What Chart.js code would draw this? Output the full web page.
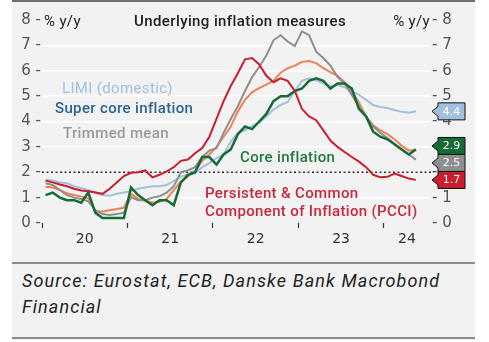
<!DOCTYPE html>
<html>
<head>
<meta charset="utf-8">
<script src="https://cdn.jsdelivr.net/npm/chart.js@4.4.1/dist/chart.umd.min.js"></script>
<style>
    html, body { margin: 0; padding: 0; background: #fff; }
    body { width: 489px; height: 342px; position: relative; overflow: hidden; font-family: Roboto, sans-serif; }
    #panel { position: absolute; left: 12px; top: 0; width: 463px; height: 340px; background: #f2f2f2; border-top: 2px solid #6e6e6e; box-sizing: border-box; }
    .rule { position: absolute; left: 12px; width: 463px; height: 2px; background: #8c8c8c; }
    #chart { position: absolute; left: 0; top: 0; }
    .lbl { position: absolute; white-space: nowrap; line-height: 1; transform: translateY(-50%); font-size: 15px; font-weight: 500; letter-spacing: 0.35px; }
    #title { left: 240px; top: 21px; transform: translate(-50%, -50%); font-size: 15px; letter-spacing: 0.4px; color: #222; }
    #unit-left { left: 44px; top: 21px; color: #222; font-weight: 400; }
    #unit-right { right: 59px; top: 21px; color: #222; font-weight: 400; }
    #source { position: absolute; left: 22px; top: 268px; width: 432px; font-size: 18px; line-height: 26px; letter-spacing: 1.1px; font-style: italic; color: #222; }
</style>
</head>
<body>
<div id="panel"></div>
<div class="rule" style="top: 262px;"></div>
<div class="rule" style="top: 337px;"></div>
<canvas id="chart" width="489" height="262"></canvas>

<div class="lbl" id="title">Underlying inflation measures</div>
<div class="lbl" id="unit-left">% y/y</div>
<div class="lbl" id="unit-right">% y/y</div>
<div class="lbl" style="left: 62px; top: 88px; color: #a3c1dd; font-weight: 400;">LIMI (domestic)</div>
<div class="lbl" style="left: 55px; top: 108px; color: #2d6391;">Super core inflation</div>
<div class="lbl" style="left: 63px; top: 133px; color: #9a9a9a;">Trimmed mean</div>
<div class="lbl" style="left: 240px; top: 157px; color: #1d7a3c;">Core inflation</div>
<div class="lbl" style="left: 205px; top: 193px; color: #c8283c;">Persistent &amp; Common</div>
<div class="lbl" style="left: 205px; top: 211px; color: #c8283c;">Component of Inflation (PCCI)</div>

<div id="source">Source: Eurostat, ECB, Danske Bank Macrobond Financial</div>

<script>
// monthly, Jan 2020 - May 2024
const startYear = 2020;

const limi = [
    1.7, 1.68, 1.6, 1.57, 1.45, 1.38, 1.3, 1.2, 1.1, 1.07, 1.15, 1.2,
    1.25, 1.35, 1.4, 1.45, 1.45, 1.5, 1.65, 1.83, 1.9, 1.96, 2.2, 2.36,
    2.55, 2.7, 3.2, 3.55, 3.65, 3.82, 3.95, 4.2, 4.47, 4.65, 4.77, 5.2,
    5.6, 5.7, 5.62, 5.5, 5.38, 5.45, 5.35, 5.2, 5.05, 4.85, 4.65, 4.57,
    4.53, 4.45, 4.38, 4.35, 4.4,
];
const superCore = [
    1.43, 1.4, 1.3, 1.17, 1.1, 1.04, 0.97, 0.45, 0.45, 0.5, 0.55, 0.6,
    1.15, 0.95, 0.88, 0.8, 0.84, 0.95, 1.3, 1.63, 1.83, 2.05, 2.45, 2.7,
    3.0, 3.4, 3.8, 4.4, 4.85, 5.15, 5.32, 5.45, 5.6, 5.92, 6.1, 6.2,
    6.35, 6.38, 6.3, 6.1, 5.95, 5.8, 5.55, 5.2, 4.75, 4.2, 3.85, 3.65,
    3.5, 3.3, 3.05, 2.85, 2.9,
];
const trimmedMean = [
    1.57, 1.5, 1.3, 1.1, 1.0, 0.95, 0.85, 0.5, 0.35, 0.32, 0.35, 0.4,
    1.02, 0.9, 0.9, 1.0, 1.05, 1.2, 1.45, 2.0, 2.08, 2.2, 2.6, 2.85,
    2.95, 3.55, 4.1, 4.6, 5.2, 5.75, 6.15, 6.6, 7.2, 7.4, 7.15, 6.97,
    7.55, 7.4, 6.75, 6.5, 6.2, 5.75, 5.5, 5.05, 4.6, 4.2, 3.8, 3.55,
    3.35, 3.1, 2.9, 2.7, 2.5,
];
const coreInflation = [
    1.1, 1.2, 1.0, 0.9, 0.9, 0.8, 1.2, 0.4, 0.2, 0.2, 0.2, 0.2,
    1.4, 1.1, 0.9, 0.7, 0.9, 0.9, 0.7, 1.6, 1.9, 2.0, 2.6, 2.6,
    2.3, 2.7, 2.9, 3.5, 3.8, 3.7, 4.0, 4.3, 4.8, 5.0, 5.0, 5.2,
    5.3, 5.6, 5.7, 5.6, 5.3, 5.5, 5.5, 5.3, 4.5, 4.2, 3.6, 3.4,
    3.3, 3.1, 2.9, 2.7, 2.9,
];
const pcci = [
    1.67, 1.6, 1.52, 1.45, 1.35, 1.28, 1.25, 1.2, 1.15, 1.35, 1.6, 1.85,
    1.98, 2.0, 2.07, 1.8, 1.9, 2.03, 2.2, 2.45, 2.5, 2.75, 2.95, 3.4,
    4.1, 4.8, 5.4, 5.9, 6.45, 6.5, 6.25, 5.8, 5.55, 5.7, 5.6, 5.2,
    4.5, 4.2, 4.05, 3.65, 3.25, 3.0, 2.8, 2.6, 2.42, 2.2, 1.9, 1.8,
    1.82, 1.95, 1.85, 1.75, 1.7,
];

const yearTicks = [2020, 2021, 2022, 2023, 2024];
const yearLabelPos = [2020.5, 2021.5, 2022.5, 2023.5, 2024.27];
const yearLabels = ["20", "21", "22", "23", "24"];
const yTicks = [0, 1, 2, 3, 4, 5, 6, 7, 8];

const colors = {
    limi: "#a3c1dd",
    superCore: "#ef8155",
    trimmed: "#8f8f8f",
    core: "#146b35",
    pcci: "#c81e2e",
};

function toPoints(values) {
    return values.map((v, i) => ({ x: startYear + (i + 0.5) / 12, y: v }));
}

function lineSet(label, values, color, order, width) {
    return {
        label,
        data: toPoints(values),
        borderColor: color,
        backgroundColor: color,
        borderWidth: width || 2,
        pointRadius: 0,
        tension: 0,
        order,
    };
}

// value flags at the right edge, pushed apart when they collide
const flagSeries = [
    { values: limi, fill: colors.limi },
    { values: coreInflation, fill: colors.core },
    { values: trimmedMean, fill: colors.trimmed },
    { values: pcci, fill: colors.pcci },
];

const flagPlugin = {
    id: "flags",
    beforeDatasetsDraw(chart) {
        const { ctx, chartArea, scales } = chart;
        const y = scales.y.getPixelForValue(2);
        ctx.save();
        ctx.strokeStyle = "#333";
        ctx.lineWidth = 1.6;
        ctx.setLineDash([2, 2.5]);
        ctx.beginPath();
        ctx.moveTo(chartArea.left, y);
        ctx.lineTo(chartArea.right + 4, y);
        ctx.stroke();
        ctx.restore();
    },
    afterDraw(chart) {
        const { ctx, chartArea, scales } = chart;
        const items = flagSeries.map((s) => {
            const last = s.values[s.values.length - 1];
            return { text: last.toFixed(1), fill: s.fill, y: scales.y.getPixelForValue(last) };
        }).sort((a, b) => a.y - b.y);
        const gap = 17;
        for (let pass = 0; pass < 5; pass++) {
            for (let i = 1; i < items.length; i++) {
                const d = items[i].y - items[i - 1].y;
                if (d < gap) {
                    const push = (gap - d) / 2;
                    items[i - 1].y -= push;
                    items[i].y += push;
                }
            }
        }
        const tip = chartArea.right + 2;
        const left = tip + 6;
        const right = tip + 33;
        ctx.save();
        items.forEach((it) => {
            const y = it.y;
            ctx.beginPath();
            ctx.moveTo(tip, y);
            ctx.lineTo(left, y - 5);
            ctx.lineTo(left, y - 8.5);
            ctx.lineTo(right, y - 8.5);
            ctx.lineTo(right, y + 8.5);
            ctx.lineTo(left, y + 8.5);
            ctx.lineTo(left, y + 5);
            ctx.closePath();
            ctx.fillStyle = it.fill;
            ctx.fill();
            ctx.strokeStyle = "#111";
            ctx.lineWidth = 1;
            ctx.stroke();
            ctx.fillStyle = "#fff";
            ctx.font = "11px 'DejaVu Sans'";
            ctx.textAlign = "center";
            ctx.textBaseline = "middle";
            ctx.fillText(it.text, (left + right) / 2, y + 0.5);
        });
        ctx.restore();
    },
};

const tickFont = { family: "'DejaVu Sans'", size: 15 };

new Chart(document.getElementById("chart"), {
    type: "line",
    data: {
        datasets: [
            lineSet("LIMI (domestic)", limi, colors.limi, 4),
            lineSet("Super core inflation", superCore, colors.superCore, 3),
            lineSet("Trimmed mean", trimmedMean, colors.trimmed, 2),
            lineSet("Core inflation", coreInflation, colors.core, 1, 2.5),
            lineSet("PCCI", pcci, colors.pcci, 0),
        ],
    },
    options: {
        responsive: false,
        animation: false,
        layout: { padding: { top: 20, left: 0, right: 0, bottom: 0 } },
        plugins: { legend: { display: false }, tooltip: { enabled: false } },
        scales: {
            x: {
                type: "linear",
                min: 2020,
                max: 2024.54,
                afterBuildTicks: (scale) => {
                    scale.ticks = [...yearTicks, ...yearLabelPos].sort((a, b) => a - b).map((v) => ({ value: v }));
                },
                afterFit: (scale) => { scale.height = 39; },
                ticks: {
                    autoSkip: false,
                    maxRotation: 0,
                    padding: 3,
                    color: "#333",
                    font: { family: "'DejaVu Sans'", size: 14 },
                    callback: (value) => {
                        const i = yearLabelPos.indexOf(value);
                        return i >= 0 ? yearLabels[i] : "";
                    },
                },
                grid: {
                    drawOnChartArea: false,
                    drawTicks: true,
                    tickLength: 5,
                    tickWidth: 1.2,
                    tickColor: (ctx) => (ctx.tick && yearTicks.includes(ctx.tick.value) ? "#333" : "rgba(0,0,0,0)"),
                },
                border: { display: false },
            },
            y: {
                position: "left",
                min: 0,
                max: 8,
                afterBuildTicks: (scale) => { scale.ticks = yTicks.map((v) => ({ value: v })); },
                afterFit: (scale) => { scale.width = 42; },
                ticks: {
                    padding: 1,
                    color: "#555",
                    font: tickFont,
                    callback: (v) => `${v} -`,
                },
                grid: {
                    drawTicks: false,
                    lineWidth: 1.5,
                    color: (ctx) => (ctx.tick && [1, 3, 4, 5, 6, 7].includes(ctx.tick.value) ? "#ffffff" : "rgba(0,0,0,0)"),
                },
                border: { display: false },
            },
            y2: {
                position: "right",
                min: 0,
                max: 8,
                afterBuildTicks: (scale) => { scale.ticks = yTicks.map((v) => ({ value: v })); },
                afterFit: (scale) => { scale.width = 59; },
                ticks: {
                    padding: 2,
                    color: "#555",
                    font: tickFont,
                    callback: (v) => `- ${v}`,
                },
                grid: { display: false, drawTicks: false },
                border: { display: false },
            },
        },
    },
    plugins: [flagPlugin],
});
</script>
</body>
</html>
